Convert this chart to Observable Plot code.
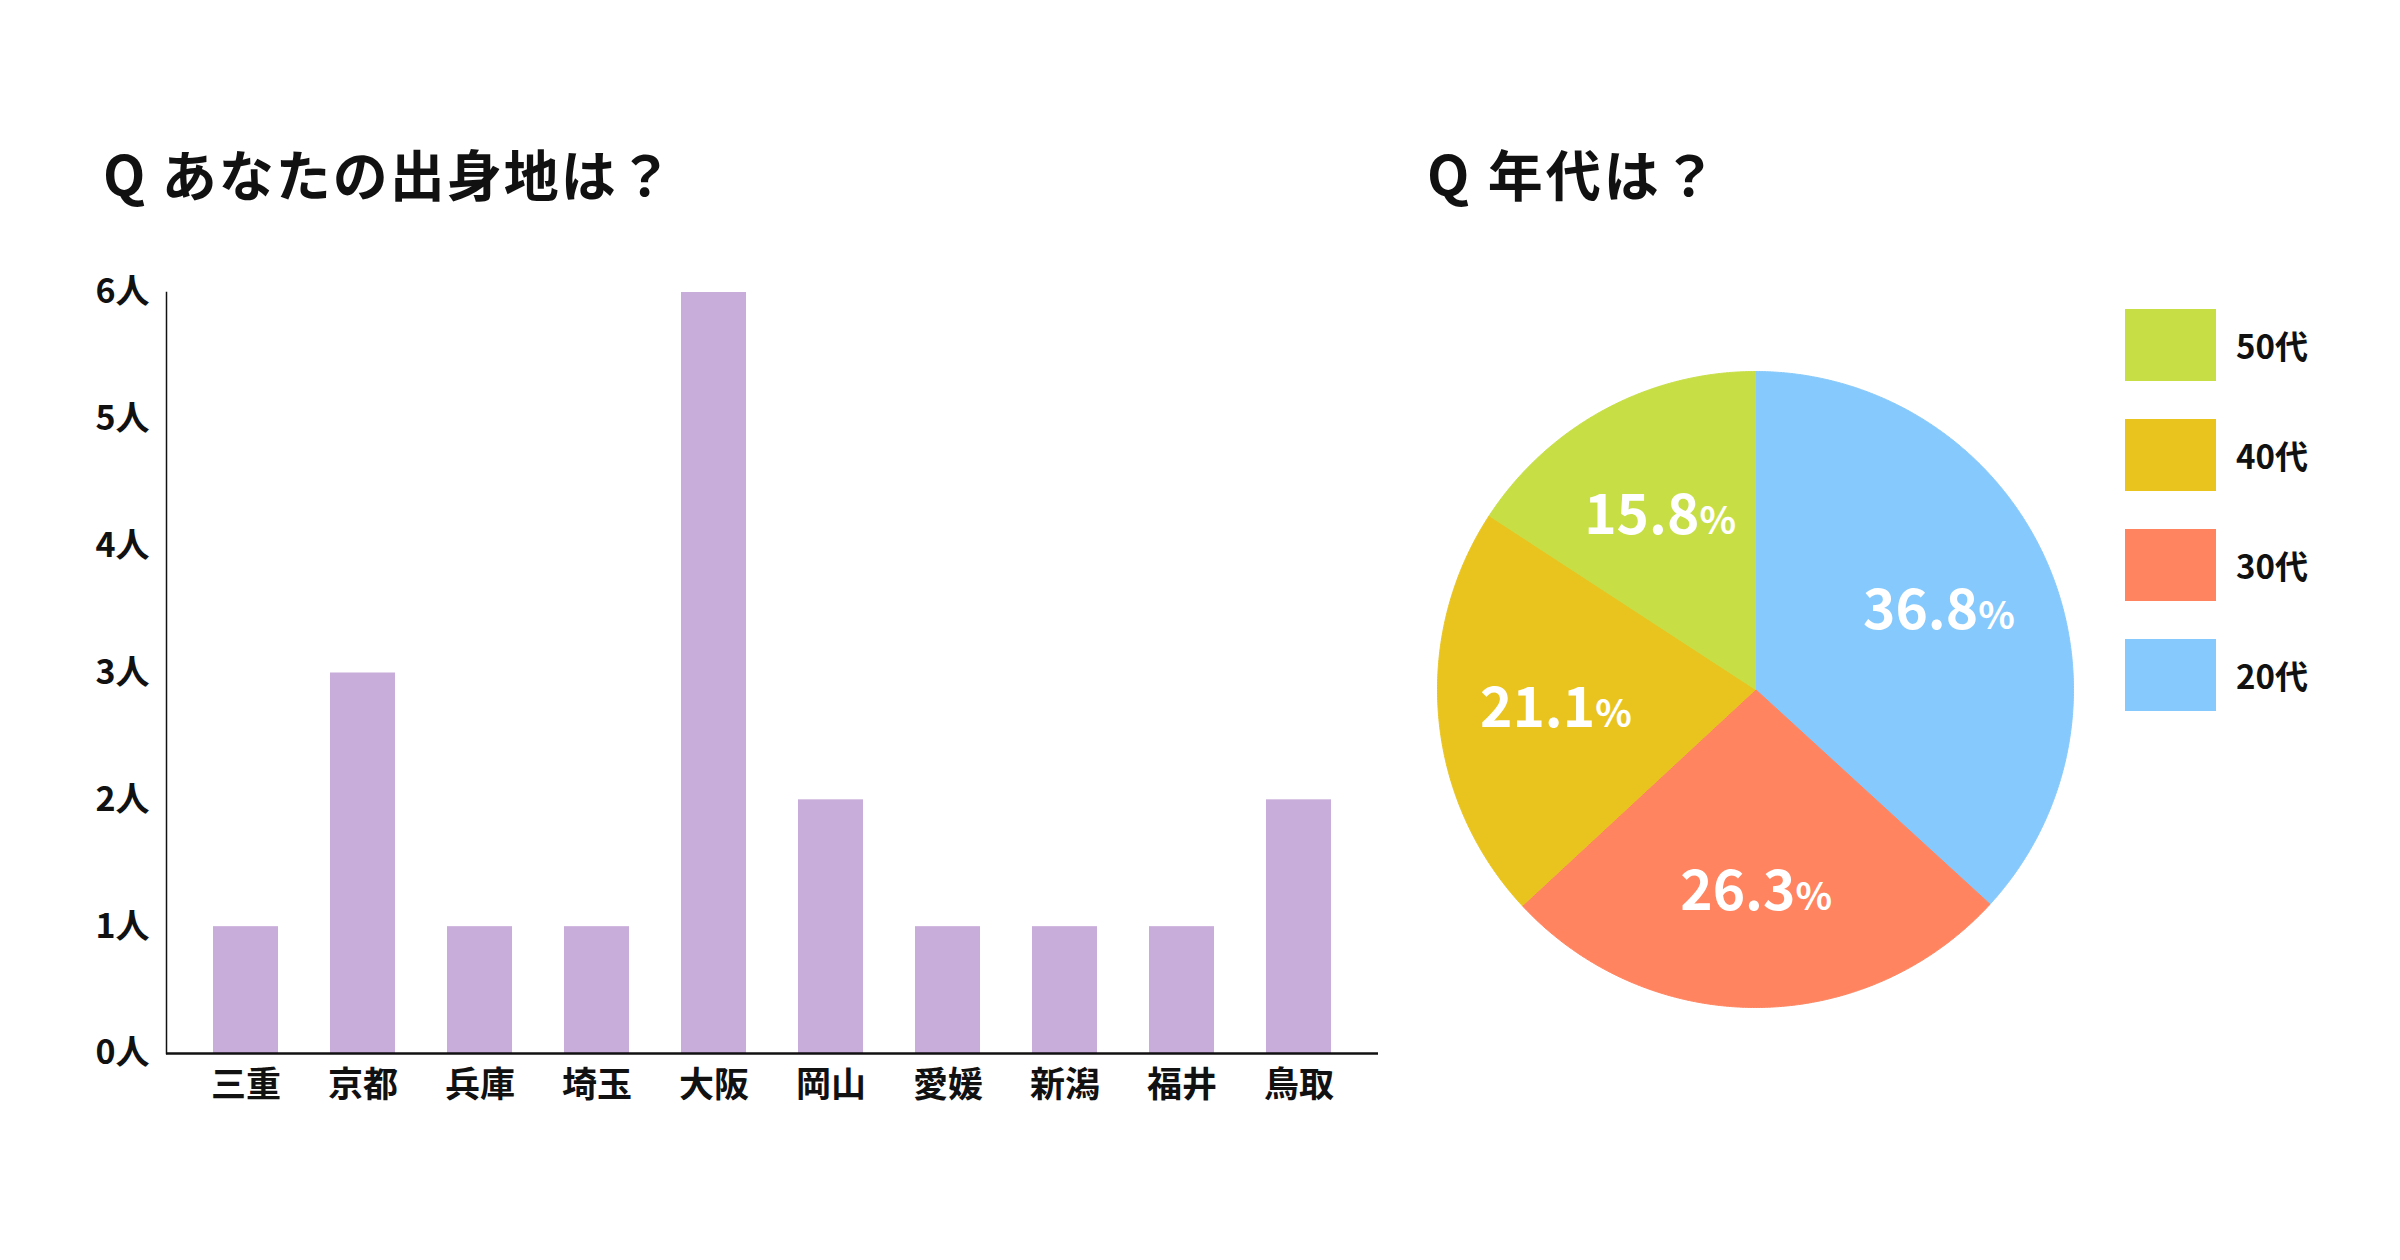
<!DOCTYPE html>
<html>
<head>
<meta charset="utf-8">
<script src="https://cdn.jsdelivr.net/npm/d3@7"></script>
<script src="https://cdn.jsdelivr.net/npm/@observablehq/plot@0.6"></script>
<style>
  html, body { margin: 0; padding: 0; background: #fff; }
  #page { position: relative; width: 2400px; height: 1260px; overflow: hidden; font-family: "Noto Sans CJK JP", sans-serif; color: #111; }
  .title { position: absolute; font-size: 55px; font-weight: 700; line-height: 1; letter-spacing: 3px; white-space: nowrap; }
  .abs { position: absolute; }
  .legend-item { position: absolute; display: flex; align-items: center; }
  .legend-swatch { width: 91px; height: 72px; }
  .legend-label { margin-left: 20px; font-size: 33px; font-weight: 700; line-height: 1; }
</style>
</head>
<body>
<div id="page">
  <div class="title" style="left:103px; top:145px; letter-spacing:2px;">Q あなたの出身地は？</div>
  <div class="title" style="left:1427px; top:145px;">Q 年代は？</div>
  <div id="bar" class="abs" style="left:0; top:0;"></div>
  <div id="pie" class="abs" style="left:1400px; top:0;"></div>
  <div id="legend"></div>
</div>
<script>
// ---- data ----
const prefectures = ["三重", "京都", "兵庫", "埼玉", "大阪", "岡山", "愛媛", "新潟", "福井", "鳥取"];
const counts = [1, 3, 1, 1, 6, 2, 1, 1, 1, 2];
const yTicks = [0, 1, 2, 3, 4, 5, 6];
const ageGroups = ["20代", "30代", "40代", "50代"];
const agePercents = [36.8, 26.3, 21.1, 15.8];
const ageColors = ["#86C9FC", "#FF845F", "#E9C41F", "#C7DE45"];
const legendOrder = ["50代", "40代", "30代", "20代"];

const font = "'Noto Sans CJK JP', sans-serif";

// ---- bar chart ----
const barData = prefectures.map((p, i) => ({pref: p, count: counts[i]}));
const bar = Plot.plot({
  width: 1420, height: 1260,
  marginLeft: 166, marginRight: 42, marginTop: 292, marginBottom: 207,
  style: {fontFamily: font, fontSize: "34px", fontWeight: 700, color: "#111", background: "transparent"},
  x: {domain: prefectures, paddingInner: 0.446, paddingOuter: 0.387, label: null},
  y: {domain: [0, 6], label: null},
  marks: [
    Plot.barY(barData, {x: "pref", y: "count", fill: "#C8ACDA"}),
    Plot.ruleY([0], {stroke: "#111", strokeWidth: 2.5}),
    Plot.frame({anchor: "left", stroke: "#111", strokeWidth: 1.5}),
    Plot.axisY({ticks: yTicks, tickSize: 0, tickPadding: 17, tickFormat: d => d + "人", label: null, fontSize: 34}),
    Plot.axisX({tickSize: 0, tickPadding: 19, label: null, fontSize: 35})
  ]
});
document.getElementById("bar").appendChild(bar);

// ---- pie chart ----
const pieData = ageGroups.map((g, i) => ({group: g, pct: agePercents[i]}));
const arcs = d3.pie().sort(null).value(d => d.pct)(pieData);
const outline = [];
for (const a of arcs) {
  outline.push({group: a.data.group, x: 0, y: 0});
  const n = Math.max(2, Math.ceil((a.endAngle - a.startAngle) / 0.005));
  for (let k = 0; k <= n; k++) {
    const t = a.startAngle + (a.endAngle - a.startAngle) * k / n;
    outline.push({group: a.data.group, x: Math.sin(t), y: Math.cos(t)});
  }
  outline.push({group: a.data.group, x: 0, y: 0});
}
const labels = arcs.map(a => {
  const m = (a.startAngle + a.endAngle) / 2;
  return {x: 0.63 * Math.sin(m), y: 0.63 * Math.cos(m), text: a.data.pct.toFixed(1) + "%"};
});
const pie = Plot.plot({
  width: 1000, height: 1260,
  marginLeft: 37, marginRight: 327, marginTop: 371, marginBottom: 253,
  style: {fontFamily: font, background: "transparent"},
  x: {domain: [-1, 1], axis: null},
  y: {domain: [-1, 1], axis: null},
  color: {domain: ageGroups, range: ageColors},
  marks: [
    Plot.line(outline, {x: "x", y: "y", z: "group", fill: "group", stroke: "group", strokeWidth: 1, curve: "linear"}),
    Plot.text(labels, {x: "x", y: "y", text: "text", fill: "white", fontSize: 55, fontWeight: 700, textAnchor: "middle", dy: 3})
  ]
});
// make the % sign smaller
d3.select(pie).selectAll("text").each(function() {
  const s = this.textContent;
  if (s.endsWith("%")) {
    const el = d3.select(this);
    el.text(null);
    el.append("tspan").text(s.slice(0, -1));
    el.append("tspan").attr("font-size", 38).text("%");
  }
});
document.getElementById("pie").appendChild(pie);

// ---- legend ----
const legend = document.getElementById("legend");
legendOrder.forEach((g, i) => {
  const item = document.createElement("div");
  item.className = "legend-item";
  item.style.left = "2125px";
  item.style.top = (309 + i * 110) + "px";
  const sw = document.createElement("div");
  sw.className = "legend-swatch";
  sw.style.background = ageColors[ageGroups.indexOf(g)];
  const lb = document.createElement("div");
  lb.className = "legend-label";
  lb.textContent = g;
  item.appendChild(sw);
  item.appendChild(lb);
  legend.appendChild(item);
});
</script>
</body>
</html>
